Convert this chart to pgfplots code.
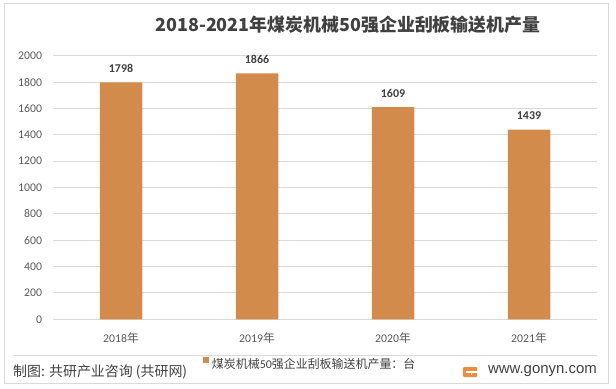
\documentclass[border=0pt]{standalone}
\usepackage{pgfplots}
\pgfplotsset{compat=1.18}
\usepackage{fontspec}
\setmainfont{Carlito}
\newfontfamily\cjk{Noto Sans CJK SC}
\newfontfamily\wwwfont{Liberation Sans}
\definecolor{barc}{HTML}{D38B4C}
\definecolor{txt}{HTML}{404040}
\definecolor{tickc}{HTML}{595959}
\definecolor{gridc}{HTML}{D9D9D9}
\definecolor{logoc}{HTML}{F08A3C}
\begin{document}
\begin{tikzpicture}[x=1bp,y=1bp]
\useasboundingbox (0,0) rectangle (616,388);
\draw[gridc, line width=1bp] (4.3,5) rectangle (608,384.7);
\draw[gridc, line width=0.9bp] (13,33) -- (597,33);
\node[font=\cjk\bfseries\fontsize{18}{20}\selectfont, text=txt] at (348,363) {2018-2021年煤炭机械50强企业刮板输送机产量};
\begin{axis}[
  at={(53bp,68.7bp)}, anchor=south west, scale only axis,
  width=544bp, height=263.6bp,
  xmin=-0.5, xmax=3.5, ymin=0, ymax=2000,
  xtick={0,1,2,3},
  xticklabels={{2018{\cjk 年}},{2019{\cjk 年}},{2020{\cjk 年}},{2021{\cjk 年}}},
  ytick={0,200,...,2000},
  axis line style={draw=none},
  major tick length=0pt,
  ymajorgrids, grid style={draw=gridc, line width=0.9bp},
  tick label style={font=\fontsize{11.8}{13}\selectfont, text=tickc},
  xticklabel style={anchor=center, yshift=-18.3bp},
  yticklabel style={anchor=east, xshift=-7.5bp},
  /pgf/number format/assume math mode=true,
  /pgf/number format/1000 sep={},
  ybar, bar width=42.5bp,
  nodes near coords,
  nodes near coords style={font=\bfseries\fontsize{12}{14}\selectfont, text=txt, anchor=center, yshift=14bp},
  legend style={at={(0.2757,-0.1677)}, anchor=west, draw=none, fill=none,
    inner sep=0pt, outer sep=0pt, font=\fontsize{12}{14}\selectfont, text=txt,
    nodes={inner sep=0pt, outer sep=0pt}},
  legend cell align=left,
  legend image code/.code={\fill[barc] (0bp,1.2bp) rectangle (5.7bp,6.9bp); \path (0bp,0bp) -- (9bp,0bp);},
]
\addplot[fill=barc, draw=none] coordinates {(0,1798) (1,1866) (2,1609) (3,1439)};
\addlegendentry{{\cjk 煤炭机械}50{\cjk 强企业刮板输送机产量：台}}
\end{axis}
\node[anchor=west, inner sep=0pt, font=\cjk\fontsize{14}{16}\selectfont, text=txt] at (13,16) {制图: 共研产业咨询 (共研网)};
\node[anchor=east, inner sep=0pt, font=\wwwfont\fontsize{15}{17}\selectfont, text=txt] at (597,17) {www.gonyn.com};
\fill[logoc, rounded corners=1bp] (463,11) rectangle (477,21);
\fill[white] (466,15.3) rectangle (477,16.8);
\fill[white] (470.5,13.5) rectangle (472,16.8);
\end{tikzpicture}
\end{document}
